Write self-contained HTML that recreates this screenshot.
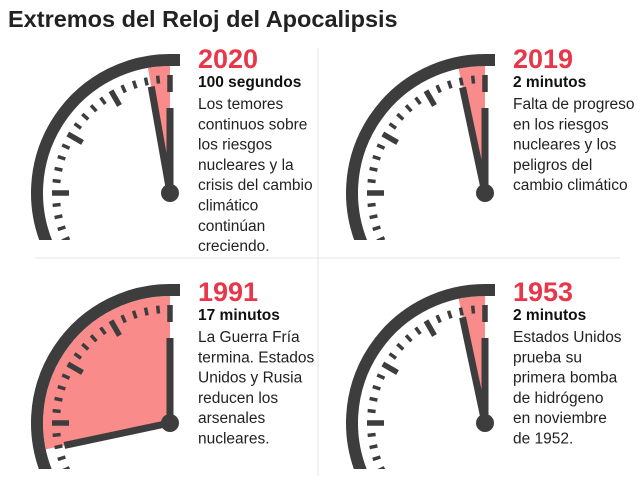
<!DOCTYPE html>
<html><head><meta charset="utf-8">
<style>
html,body{margin:0;padding:0;background:#fff;width:640px;height:481px;overflow:hidden}
svg{display:block;overflow:hidden}
.t{font-family:"Liberation Sans",sans-serif}
</style></head>
<body>
<svg id="chart" width="640" height="481" viewBox="0 0 640 481">
  <defs>
    <clipPath id="clipTop"><rect x="0" y="40" width="640" height="200"/></clipPath>
    <clipPath id="clipBot"><rect x="0" y="265" width="640" height="204"/></clipPath>
  </defs>
  <text class="t" x="8" y="27" font-size="23.5" font-weight="bold" fill="#222">Extremos del Reloj del Apocalipsis</text>
  <line x1="318" y1="48" x2="318" y2="476" stroke="#e6e6e6" stroke-width="1"/>
  <line x1="35" y1="258" x2="620" y2="258" stroke="#e6e6e6" stroke-width="1"/>
  <g id="panels"></g>
</svg>
<script>
const years = ["2020", "2019", "1991", "1953"];
const minutesBefore = [1.667, 2, 17, 2];
const subtitles = ["100 segundos", "2 minutos", "17 minutos", "2 minutos"];
const bodies = [
  ["Los temores", "continuos sobre", "los riesgos", "nucleares y la", "crisis del cambio", "climático", "continúan", "creciendo."],
  ["Falta de progreso", "en los riesgos", "nucleares y los", "peligros del", "cambio climático"],
  ["La Guerra Fría", "termina. Estados", "Unidos y Rusia", "reducen los", "arsenales", "nucleares."],
  ["Estados Unidos", "prueba su", "primera bomba", "de hidrógeno", "en noviembre", "de 1952."]
];
const NS = "http://www.w3.org/2000/svg";
const root = document.getElementById("panels");
const centers = [[170,193],[485,193],[170,423],[485,423]];
const DARK = "#3d3d3d", RED = "#f98b8b", YEARC = "#e8374a";
function mk(tag, attrs, parent){
  const e = document.createElementNS(NS, tag);
  for (const k in attrs) e.setAttribute(k, attrs[k]);
  parent.appendChild(e); return e;
}
function pt(cx, cy, r, deg){ const a = (deg - 90) * Math.PI / 180; return [cx + r*Math.cos(a), cy + r*Math.sin(a)]; }
function angle(m){ return -m * 6; }
years.forEach((yr, i) => {
  const [cx, cy] = centers[i];
  const g = mk("g", {"clip-path": i < 2 ? "url(#clipTop)" : "url(#clipBot)"}, root);
  
  
  const R = 133, inner = 127;
  const ha = angle(minutesBefore[i]);
  const p1 = pt(cx, cy, inner, 0), p2 = pt(cx, cy, inner, ha);
  const large = Math.abs(ha) > 180 ? 1 : 0;
  const wedge = mk("path", {d:`M${cx},${cy} L${p1[0]},${p1[1]} A${inner},${inner} 0 ${large} 0 ${p2[0]},${p2[1]} Z`, fill: RED}, g);
  
  
  const a1 = pt(cx, cy, R, 247);
  const arc = mk("path", {d:`M${cx+10},${cy-R} L${cx},${cy-R} A${R},${R} 0 0 0 ${a1[0]},${a1[1]}`, fill:"none", stroke: DARK, "stroke-width": 12}, g);
  
  
  for (let m = 0; m <= 19; m++){
    const deg = -m * 6, long = m % 5 === 0;
    const s = pt(cx, cy, 118, deg), e = pt(cx, cy, long ? 101 : 110, deg);
    const t = mk("line", {x1:s[0], y1:s[1], x2:e[0], y2:e[1], stroke: DARK, "stroke-width": long ? 5.5 : 3.5}, g);
    
    
  }
  const hh = mk("line", {x1:cx, y1:cy, x2:cx, y2:cy-85, stroke: DARK, "stroke-width": 7}, g);
  
  
  const mt = pt(cx, cy, 108, ha);
  const mh = mk("path", {d:`M${cx},${cy} L${mt[0]},${mt[1]}`, stroke: DARK, "stroke-width": 7}, g);
  
  
  const hub = mk("circle", {cx, cy, r: 9, fill: DARK}, g);
  
  
  const tx = i % 2 === 0 ? 198 : 513;
  const ty = i < 2 ? 68 : 301;
  const y = mk("text", {x: tx, y: ty, "font-size": 27, "font-weight": "bold", fill: YEARC, class: "t"}, root);
  y.textContent = yr;
  
  
  const s = mk("text", {x: tx, y: ty + 19, "font-size": 15.5, "font-weight": "bold", fill: "#111", class: "t"}, root);
  s.textContent = subtitles[i];
  
  
  bodies[i].forEach((line, j) => {
    const b = mk("text", {x: tx, y: ty + 41 + j*20.3, "font-size": 15.5, fill: "#222", class: "t"}, root);
    b.textContent = line;
    
    
  });
});
</script>
</body></html>
